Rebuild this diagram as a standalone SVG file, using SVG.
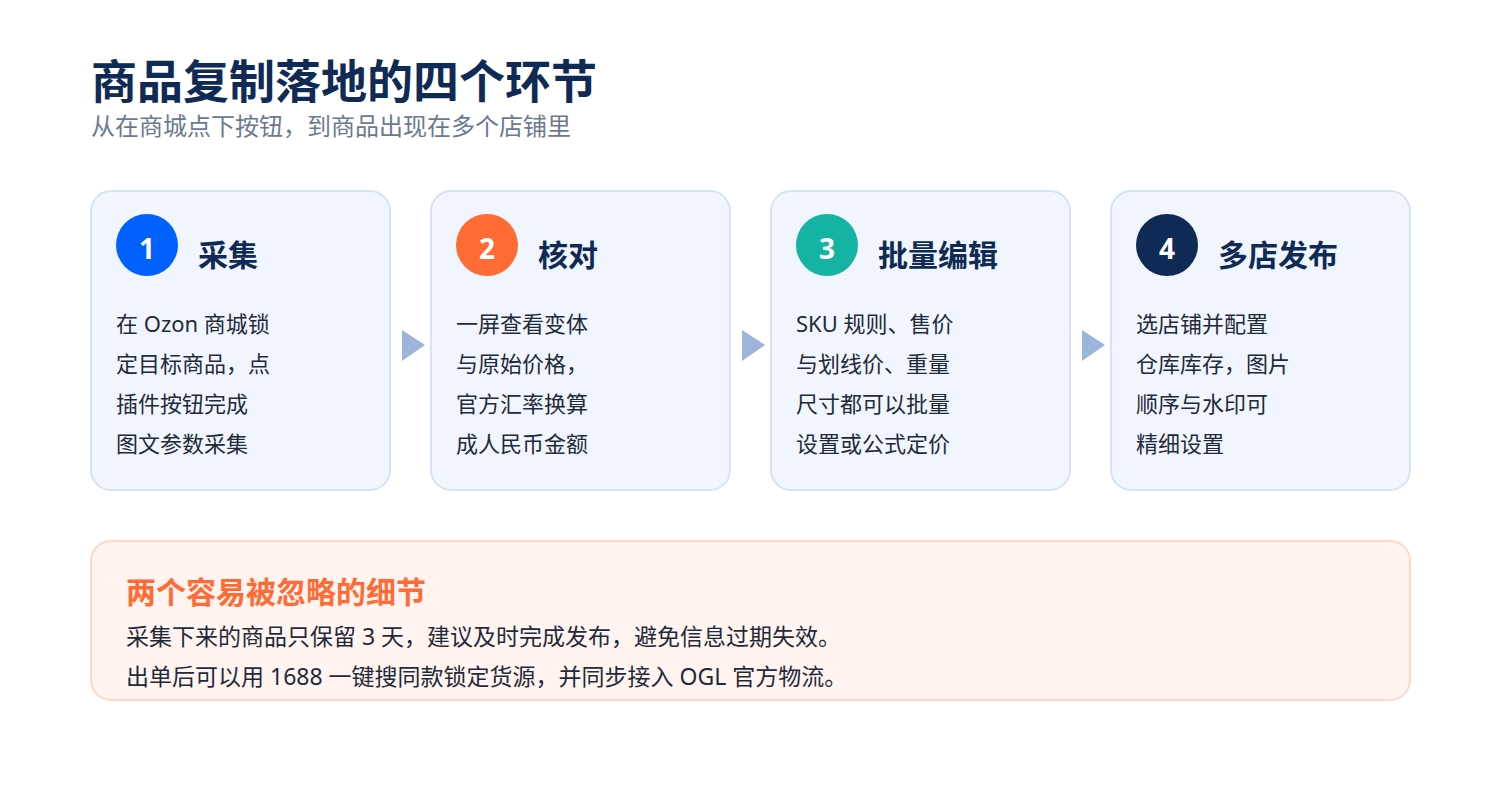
<svg xmlns="http://www.w3.org/2000/svg" width="1500" height="800" viewBox="0 0 1500 800">
<style>
text{font-family:"Noto Sans","Noto Sans CJK SC",sans-serif}
.title{font-size:46px;font-weight:700;fill:#0f2b55}
.sub{font-size:24px;fill:#6b7a90}
.card{fill:#f1f6fe;stroke:#d6e2f5;stroke-width:2}
.num{font-size:28px;font-weight:700;fill:#fff;text-anchor:middle}
.ct{font-size:30px;font-weight:700;fill:#0f2b55}
.body{font-size:22px;fill:#1f2a3a}
.nb{font-size:23px;fill:#1f2a3a}
.arr{fill:#9db5db}
.note{fill:#fff4ef;stroke:#fdd9c6;stroke-width:2}
.nh{font-size:30px;font-weight:700;fill:#ff6b35}
</style>
<rect width="1500" height="800" fill="#ffffff"/>
<g id="header">
<text class="title" x="91" y="98">商品复制落地的四个环节</text>
<text class="sub" x="91" y="135">从在商城点下按钮，到商品出现在多个店铺里</text>
</g>
<g id="step1">
<rect class="card" x="91" y="191" width="299" height="299" rx="20"/>
<circle cx="147" cy="245" r="31" fill="#0061fe"/>
<text class="num" x="147" y="259">1</text>
<text class="ct" x="198" y="266">采集</text>
<text class="body" x="116" y="332">在 Ozon 商城锁</text>
<text class="body" x="116" y="372">定目标商品，点</text>
<text class="body" x="116" y="412">插件按钮完成</text>
<text class="body" x="116" y="452">图文参数采集</text>
</g>
<g id="step2">
<rect class="card" x="431" y="191" width="299" height="299" rx="20"/>
<circle cx="487" cy="245" r="31" fill="#ff6b35"/>
<text class="num" x="487" y="259">2</text>
<text class="ct" x="538" y="266">核对</text>
<text class="body" x="456" y="332">一屏查看变体</text>
<text class="body" x="456" y="372">与原始价格，</text>
<text class="body" x="456" y="412">官方汇率换算</text>
<text class="body" x="456" y="452">成人民币金额</text>
</g>
<g id="step3">
<rect class="card" x="771" y="191" width="299" height="299" rx="20"/>
<circle cx="827" cy="245" r="31" fill="#14b3a4"/>
<text class="num" x="827" y="259">3</text>
<text class="ct" x="878" y="266">批量编辑</text>
<text class="body" x="796" y="332">SKU 规则、售价</text>
<text class="body" x="796" y="372">与划线价、重量</text>
<text class="body" x="796" y="412">尺寸都可以批量</text>
<text class="body" x="796" y="452">设置或公式定价</text>
</g>
<g id="step4">
<rect class="card" x="1111" y="191" width="299" height="299" rx="20"/>
<circle cx="1167" cy="245" r="31" fill="#0f2b55"/>
<text class="num" x="1167" y="259">4</text>
<text class="ct" x="1218" y="266">多店发布</text>
<text class="body" x="1136" y="332">选店铺并配置</text>
<text class="body" x="1136" y="372">仓库库存，图片</text>
<text class="body" x="1136" y="412">顺序与水印可</text>
<text class="body" x="1136" y="452">精细设置</text>
</g>
<g id="connectors">
<polygon class="arr" points="402,330 425,345 402,361"/>
<polygon class="arr" points="742,330 765,345 742,361"/>
<polygon class="arr" points="1082,330 1105,345 1082,361"/>
</g>
<g id="notes">
<rect class="note" x="91" y="541" width="1319" height="159" rx="20"/>
<text class="nh" x="126" y="603">两个容易被忽略的细节</text>
<text class="nb" x="126" y="645">采集下来的商品只保留 3 天，建议及时完成发布，避免信息过期失效。</text>
<text class="nb" x="126" y="685">出单后可以用 1688 一键搜同款锁定货源，并同步接入 OGL 官方物流。</text>
</g>
</svg>
